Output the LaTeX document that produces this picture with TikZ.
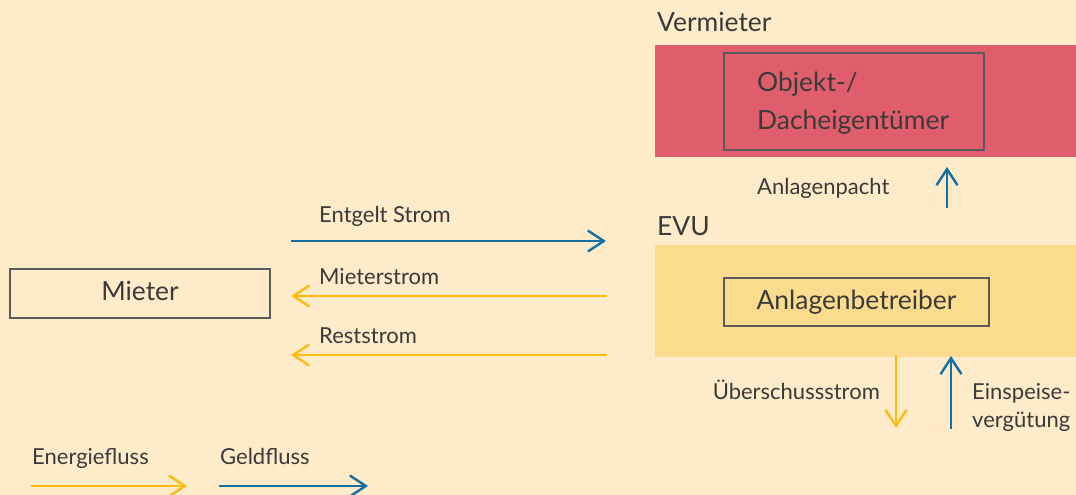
\documentclass[tikz,border=0pt]{standalone}
\usepackage{fontspec}
\setmainfont{Lato}
\usetikzlibrary{arrows.meta}
\definecolor{paper}{HTML}{FDEBC9}
\definecolor{rentband}{HTML}{E05D6B}
\definecolor{evuband}{HTML}{FBDC8E}
\definecolor{money}{HTML}{1470A3}
\definecolor{energy}{HTML}{FBBB10}
\definecolor{ink}{HTML}{3A3A3A}
\definecolor{frame}{HTML}{5A5A5A}
\tikzset{
  bigtext/.style={font=\fontsize{26.4}{31}\selectfont, text=ink, inner sep=0pt},
  smalltext/.style={font=\fontsize{22}{27}\selectfont, text=ink, inner sep=0pt},
  band/.style={draw=none, inner sep=0pt},
  party/.style={draw=frame, line width=2pt, inner sep=0pt},
  flow/.style={line width=2.6pt, -{Straight Barb[length=16pt, width=21pt, line width=2.4pt]}},
  energyflow/.style={flow, draw=energy},
  moneyflow/.style={flow, draw=money},
}
\begin{document}
\begin{tikzpicture}[x=1pt, y=-1pt]
  \fill[paper] (0,0) rectangle (1076,495);
  \useasboundingbox (0,0) rectangle (1076,495);

  % Vermieter block
  \node[bigtext, anchor=base west] (vermlabel) at (657,32) {Vermieter};
  \node[band, fill=rentband, minimum width=421pt, minimum height=112pt] (vermband) at (865.5,101) {};
  \node[party, minimum width=260pt, minimum height=97pt] (owner) at (854,101.5) {};
  \node[bigtext, anchor=base west] (ownerA) at (757,92) {Objekt-/};
  \node[bigtext, anchor=base west] (ownerB) at (757,129) {Dacheigentümer};

  % EVU block
  \node[bigtext, anchor=base west] (evulabel) at (657,235) {EVU};
  \node[band, fill=evuband, minimum width=421pt, minimum height=112pt] (evuband) at (865.5,301) {};
  \node[party, minimum width=265pt, minimum height=48pt] (operator) at (856.5,302) {};
  \node[bigtext] (operatortext) at (856.5,302) {\vphantom{Ag}Anlagenbetreiber};

  % Mieter
  \node[party, minimum width=260pt, minimum height=49pt] (tenant) at (140,293.5) {};
  \node[bigtext] (tenanttext) at (140,293.5) {\vphantom{Ag}Mieter};

  % flows between Mieter and EVU
  \coordinate (t1) at (291,241);  \coordinate (e1) at (606,241);
  \coordinate (t2) at (291,296);  \coordinate (e2) at (607,296);
  \coordinate (t3) at (291,355);  \coordinate (e3) at (607,355);
  \draw[moneyflow] (t1) -- (e1);
  \draw[energyflow] (e2) -- (t2);
  \draw[energyflow] (e3) -- (t3);
  \node[smalltext, anchor=base west] (lab1) at (319,222) {Entgelt Strom};
  \node[smalltext, anchor=base west] (lab2) at (319,284) {Mieterstrom};
  \node[smalltext, anchor=base west] (lab3) at (319,343) {Reststrom};

  % Anlagenpacht
  \coordinate (p0) at (947,208);
  \draw[moneyflow] (p0) -- (947,167);
  \node[smalltext, anchor=base west] (pacht) at (757,194) {Anlagenpacht};

  % Überschussstrom and Einspeisevergütung
  \coordinate (s1) at (896,428);
  \coordinate (v0) at (951,429);
  \draw[energyflow] (896,355) -- (s1);
  \draw[moneyflow] (v0) -- (951,356);
  \node[smalltext, anchor=base east] (surplus) at (880,399) {Überschussstrom};
  \node[smalltext, anchor=base west] (feedA) at (972,399) {Einspeise-};
  \node[smalltext, anchor=base west] (feedB) at (972,427) {vergütung};

  % legend
  \node[smalltext, anchor=base west] (legE) at (32,464) {Energiefluss};
  \node[smalltext, anchor=base west] (legG) at (220,464) {Geldfluss};
  \coordinate (le0) at (31,486);  \coordinate (le1) at (187,486);
  \coordinate (lg0) at (219,486); \coordinate (lg1) at (368,486);
  \draw[energyflow] (le0) -- (le1);
  \draw[moneyflow] (lg0) -- (lg1);
\end{tikzpicture}
\end{document}
